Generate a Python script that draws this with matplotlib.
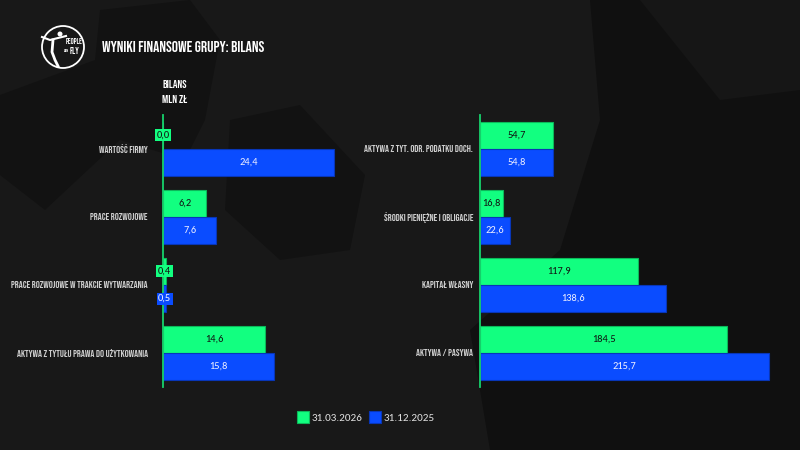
import matplotlib
matplotlib.use("Agg")
import matplotlib.pyplot as plt
from matplotlib.patches import Polygon, Circle

# ---- data ----
left_categories = ["WARTOŚĆ FIRMY", "PRACE ROZWOJOWE",
                   "PRACE ROZWOJOWE W TRAKCIE WYTWARZANIA",
                   "AKTYWA Z TYTUŁU PRAWA DO UŻYTKOWANIA"]
left_2026 = [0.0, 6.2, 0.4, 14.6]
left_2025 = [24.4, 7.6, 0.5, 15.8]

right_categories = ["AKTYWA Z TYT. ODR. PODATKU DOCH.", "ŚRODKI PIENIĘŻNE I OBLIGACJE",
                    "KAPITAŁ WŁASNY", "AKTYWA / PASYWA"]
right_2026 = [54.7, 16.8, 117.9, 184.5]
right_2025 = [54.8, 22.6, 138.6, 215.7]

series_labels = ["31.03.2026", "31.12.2025"]
title = "WYNIKI FINANSOWE GRUPY: BILANS"
unit_lines = ["BILANS", "MLN ZŁ"]

GREEN = "#12FF80"
GREEN_EDGE = "#0cb85a"
BLUE = "#0A4CFF"
BLUE_EDGE = "#0836b8"
AXIS_GREEN = "#16d26c"
BG = "#181818"
BEBAS = ["Bebas Neue", "DejaVu Sans"]
BODY = ["Carlito", "Lato", "DejaVu Sans"]

W, H = 800, 450
fig = plt.figure(figsize=(8, 4.5), dpi=100, facecolor=BG)

# background axes for decorative shapes (pixel coords, y down)
bg = fig.add_axes([0, 0, 1, 1], zorder=-10)
bg.set_xlim(0, W)
bg.set_ylim(H, 0)
bg.axis("off")
bg.set_facecolor(BG)

def poly(pts, color):
    bg.add_patch(Polygon(pts, closed=True, facecolor=color, edgecolor="none"))

poly([(0, 95), (95, 60), (100, 10), (190, 0), (220, 40), (205, 120), (185, 160), (120, 140), (45, 210), (0, 175)], "#121212")
poly([(230, 120), (300, 105), (365, 175), (350, 250), (280, 260), (225, 210)], "#121212")
poly([(590, 0), (800, 0), (800, 450), (490, 450), (470, 330), (560, 250), (600, 120)], "#101010")
poly([(640, 0), (800, 0), (800, 90), (720, 100)], "#161616")

def setup_axes(rect_px, xmax, cats, v26, v25, pad):
    x0, y0, x1, y1 = rect_px
    ax = fig.add_axes([x0 / W, 1 - y1 / H, (x1 - x0) / W, (y1 - y0) / H])
    ax.set_facecolor("none")
    n = len(cats)
    pos = list(range(n))
    g = ax.barh([p - 0.2 for p in pos], v26, height=0.4, color=GREEN,
                edgecolor=GREEN_EDGE, linewidth=0.8, zorder=2)
    b = ax.barh([p + 0.2 for p in pos], v25, height=0.4, color=BLUE,
                edgecolor=BLUE_EDGE, linewidth=0.8, zorder=2)
    ax.set_xlim(0, xmax)
    ax.set_ylim(n - 0.5, -0.5)
    ax.set_yticks(pos)
    ax.set_yticklabels(cats, family=BEBAS, fontsize=7.1, color="#cfcfcf")
    ax.tick_params(axis="y", length=0, pad=pad)
    ax.set_xticks([])
    for s in ["top", "right", "bottom"]:
        ax.spines[s].set_visible(False)
    ax.spines["left"].set_color(AXIS_GREEN)
    ax.spines["left"].set_linewidth(1.3)
    ax.spines["left"].set_zorder(3)
    small = xmax * 0.06
    for vals, offs, fc, tc in [(v26, -0.2, GREEN, "#111111"), (v25, 0.2, BLUE, "#f0f0ff")]:
        for i, v in enumerate(vals):
            txt = f"{v:.1f}".replace(".", ",")
            kw = {}
            if v < small:
                kw["bbox"] = dict(boxstyle="square,pad=0.15", facecolor=fc, edgecolor="none")
            ax.text(v / 2, i + offs, txt, ha="center", va="center", fontsize=7.5,
                    color=tc, family=BODY, zorder=4, **kw)
    return ax, g, b

axL, g, b = setup_axes((163, 115, 343, 387), 180 / 6.996, left_categories, left_2026, left_2025, 11)
axR, _, _ = setup_axes((480, 115, 790, 387), 310 / 1.3412, right_categories, right_2026, right_2025, 5)

# title and unit labels
fig.text(102 / W, 1 - 47 / H, title, color="white", fontsize=11.2,
         family=BEBAS, va="center", ha="left")
fig.text(175 / W, 1 - 84 / H, unit_lines[0], color="white", fontsize=8.2,
         family=BEBAS, va="center", ha="center")
fig.text(175 / W, 1 - 99 / H, unit_lines[1], color="white", fontsize=8.2,
         family=BEBAS, va="center", ha="center")

# logo
bg.add_patch(Circle((63, 47), radius=21, facecolor="none", edgecolor="white", linewidth=1.3))
bg.plot([42, 50, 58, 66], [37, 40, 38, 36], color="white", linewidth=1.5)
bg.plot([53, 52, 55, 58], [40, 52, 60, 66], color="white", linewidth=2.0)
bg.add_patch(Circle((60, 34), radius=2.5, facecolor="white", edgecolor="none"))
fig.text(74 / W, 1 - 41 / H, "PEOPLE", color="white", fontsize=5.5,
         family=BEBAS, ha="center", va="center")
fig.text(66 / W, 1 - 50 / H, "CAN", color="white", fontsize=3,
         family=BEBAS, ha="center", va="center")
fig.text(74 / W, 1 - 51 / H, "FLY", color="white", fontsize=6.5,
         family=BEBAS, ha="center", va="center")

# legend
leg = fig.legend([g, b], series_labels, loc="center", bbox_to_anchor=(0.457, 1 - 417 / H),
                 ncol=2, frameon=False, handlelength=1.1, handleheight=1.2,
                 handletextpad=0.2, columnspacing=0.6, prop={"family": BODY, "size": 8})
for t in leg.get_texts():
    t.set_color("#e0e0e0")

fig.savefig("out.png", dpi=100, facecolor=BG)
